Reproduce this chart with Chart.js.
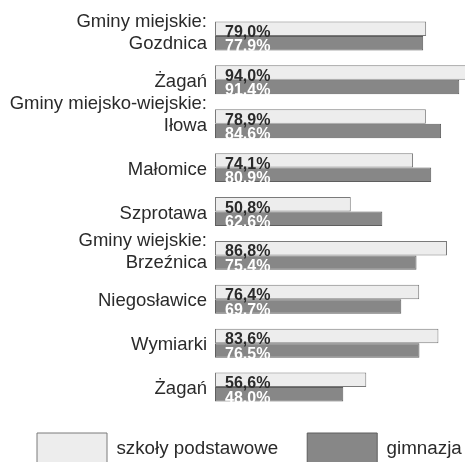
<!DOCTYPE html>
<html>
<head>
<meta charset="utf-8">
<script src="https://cdn.jsdelivr.net/npm/chart.js@4/dist/chart.umd.min.js"></script>
<style>
  html, body { margin: 0; padding: 0; background: #ffffff; overflow: hidden; width: 465px; height: 462px; }
  #wrap { position: relative; width: 509px; height: 480px; }
</style>
</head>
<body>
<div id="wrap"><canvas id="chart" width="509" height="480"></canvas></div>
<script>
// Municipality names. Tick labels are set on an 11px line grid, so empty lines
// place each group heading two lines above the first municipality of the group.
const categories = [
  ['Gminy miejskie:', '', 'Gozdnica', ''],
  'Żagań',
  ['Gminy miejsko-wiejskie:', '', 'Iłowa', '', ''],
  'Małomice',
  'Szprotawa',
  ['Gminy wiejskie:', '', 'Brzeźnica', ''],
  'Niegosławice',
  'Wymiarki',
  'Żagań'
];

const seriesNames = ['szkoły podstawowe', 'gimnazja'];

// Percentages per municipality
const primarySchools = [79.0, 94.0, 78.9, 74.1, 50.8, 86.8, 76.4, 83.6, 56.6];
const lowerSecondary = [77.9, 91.4, 84.6, 80.9, 62.6, 75.4, 69.7, 76.5, 48.0];

const FONT = '"Liberation Sans", Arial, Helvetica, sans-serif';
const TEXT = '#2a2a2a';

function formatPercent(v) {
  return v.toFixed(1).replace('.', ',') + '%';
}

// Writes each value inside its bar, near the start of the bar
const valueLabels = {
  id: 'valueLabels',
  afterDatasetsDraw(chart) {
    const ctx = chart.ctx;
    const colors = [TEXT, '#ffffff'];
    ctx.save();
    ctx.font = 'bold 16px ' + FONT;
    ctx.textAlign = 'left';
    ctx.textBaseline = 'alphabetic';
    chart.data.datasets.forEach((ds, i) => {
      const meta = chart.getDatasetMeta(i);
      meta.data.forEach((bar, j) => {
        const p = bar.getProps(['y', 'base', 'height'], true);
        ctx.fillStyle = colors[i];
        ctx.fillText(formatPercent(ds.data[j]), p.base + 10, p.y + p.height / 2 + 1);
      });
    });
    ctx.restore();
  }
};

// Lifts the legend row a little closer to the bars than its item padding would place it
const legendLift = {
  id: 'legendLift',
  afterInit(chart) {
    const legend = chart.legend;
    if (!legend) return;
    const draw = legend.draw.bind(legend);
    legend.draw = function () {
      const ctx = chart.ctx;
      ctx.save();
      ctx.translate(0, -5);
      draw();
      ctx.restore();
    };
  }
};

new Chart(document.getElementById('chart'), {
  type: 'bar',
  data: {
    labels: categories,
    datasets: [
      {
        label: seriesNames[0],
        data: primarySchools,
        backgroundColor: '#ededed',
        borderColor: '#7a7a7a',
        borderWidth: 1,
        borderSkipped: false,
        categoryPercentage: 0.66,
        barPercentage: 1.0
      },
      {
        label: seriesNames[1],
        data: lowerSecondary,
        backgroundColor: '#878787',
        borderColor: '#5e5e5e',
        borderWidth: 1,
        borderSkipped: false,
        categoryPercentage: 0.66,
        barPercentage: 1.0
      }
    ]
  },
  options: {
    indexAxis: 'y',
    responsive: false,
    animation: false,
    devicePixelRatio: 1,
    layout: { padding: { left: 8, top: 14, right: 0, bottom: 0 } },
    scales: {
      x: { display: false, min: 0, max: 110 },
      y: {
        grid: { display: false, drawTicks: false },
        border: { display: false },
        ticks: {
          autoSkip: false,
          padding: 8,
          labelOffset: 2,
          color: TEXT,
          font: { family: FONT, size: 18.5, lineHeight: '11px' }
        },
        afterFit(scale) {
          scale.width = 207;
          scale.paddingTop = 0;
          scale.paddingBottom = 0;
        }
      }
    },
    plugins: {
      legend: {
        position: 'bottom',
        align: 'start',
        labels: {
          boxWidth: 70,
          boxHeight: 32,
          padding: 29,
          color: TEXT,
          font: { family: FONT, size: 18.8 }
        }
      },
      tooltip: { enabled: false }
    }
  },
  plugins: [valueLabels, legendLift]
});
</script>
</body>
</html>
